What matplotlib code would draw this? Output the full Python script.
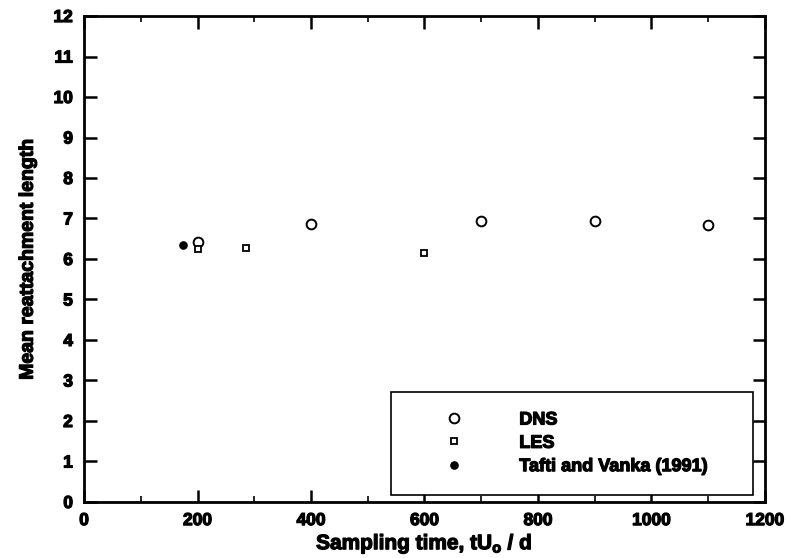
import numpy as np
import matplotlib
matplotlib.use('Agg')
import matplotlib.pyplot as plt
import matplotlib.patheffects as pe

plt.rcParams['font.family'] = ['Liberation Sans', 'DejaVu Sans']
plt.rcParams['font.weight'] = 'bold'
plt.rcParams['mathtext.fontset'] = 'custom'
plt.rcParams['mathtext.rm'] = 'Liberation Sans:bold'
plt.rcParams['mathtext.it'] = 'Liberation Sans:bold'

# data
dns_t = [200, 400, 700, 900, 1100]
dns_L = [6.42, 6.86, 6.94, 6.94, 6.84]
les_t = [200, 286, 600]
les_L = [6.25, 6.27, 6.15]
tafti_t = [175]
tafti_L = [6.35]

heavy = [pe.withStroke(linewidth=0.9, foreground='black')]

fig = plt.figure(figsize=(7.89, 5.58), dpi=100)
ax = fig.add_axes([0.1065, 0.1004, 0.863, 0.8709])

ax.plot(dns_t, dns_L, 'o', ls='none', mfc='white', mec='black', ms=7, mew=1.4, label='DNS')
ax.plot(les_t, les_L, 's', ls='none', mfc='white', mec='black', ms=4.8, mew=1.3, label='LES')
ax.plot(tafti_t, tafti_L, 'o', ls='none', mfc='black', mec='black', ms=5.2, label='Tafti and Vanka (1991)')

ax.set_xlim(0, 1200)
ax.set_ylim(0, 12)
ax.set_xticks(np.arange(0, 1201, 200))
ax.set_xticks(np.arange(0, 1201, 100), minor=True)
ax.set_yticks(np.arange(0, 13, 1))

for s in ax.spines.values():
    s.set_linewidth(2)
ax.tick_params(which='major', direction='in', length=9, width=1.8, top=True, right=True,
               labelsize=12.5, pad=8)
ax.tick_params(which='minor', direction='in', length=4, width=1.2, top=True, right=True)
ax.tick_params(axis='y', which='minor', left=False, right=False)

ax.set_xlabel(r'Sampling time, tU$_{o}$ / d', fontsize=15, fontweight='bold', labelpad=3)
ax.set_ylabel('Mean reattachment length', fontsize=14, fontweight='bold', labelpad=12)

leg = ax.legend(loc='lower left', bbox_to_anchor=(0.451, 0.0144, 0.531, 0.218), mode='expand',
                borderaxespad=0, fontsize=13, borderpad=1.1, labelspacing=0.35,
                handlelength=4.8, handletextpad=1.2, fancybox=False, framealpha=1,
                edgecolor='black')
leg.get_frame().set_linewidth(1.2)

for t in ax.get_xticklabels() + ax.get_yticklabels() + leg.get_texts():
    t.set_path_effects(heavy)
ax.xaxis.label.set_path_effects(heavy)
ax.yaxis.label.set_path_effects(heavy)

fig.savefig('out.png', dpi=100)
